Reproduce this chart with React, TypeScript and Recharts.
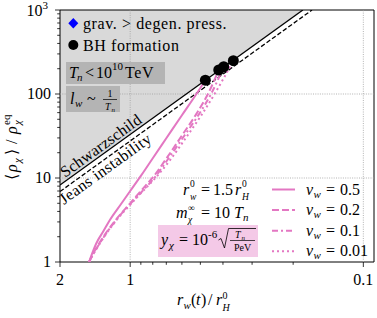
import React from 'react';
import {
  ComposedChart, Line, Area, Scatter, XAxis, YAxis, ReferenceArea
} from 'recharts';

// axis ticks
const X_MAJOR = [2, 1, 0.1];
const X_TICKS = [2, 1, 0.9, 0.8, 0.7, 0.6, 0.5, 0.4, 0.3, 0.2, 0.1];
const Y_MAJOR = [1, 10, 100, 1000];
const Y_TICKS = [1, 2, 3, 4, 5, 6, 7, 8, 9, 10, 20, 30, 40, 50, 60, 70, 80, 90, 100, 200, 300, 400, 500, 600, 700, 800, 900, 1000];
const X_DOMAIN = [0.09, 2];
const Y_DOMAIN = [1, 1000];
const GRID_X = [1, 0.1];
const GRID_Y = [10, 100];

// bound lines (end points in r_w / r_H^0 and rho / rho_eq)
const SCHW_R = [2, 0.1817];
const SCHW_RHO = [8.25, 1000];
const JEANS_R = [2, 0.166];
const JEANS_RHO = [6.9, 1000];

// wall trajectories, one per wall velocity
const V05_R = [1.5, 1.45, 1.4, 1.3, 1.222, 1.1, 1.0, 0.9, 0.8, 0.7, 0.6, 0.52, 0.476];
const V05_RHO = [1, 1.3, 1.65, 2.35, 3.16, 4.8, 7.0, 10.6, 17.2, 29.7, 55.8, 100, 146];
const V02_R = [1.5, 1.45, 1.38, 1.28, 1.15, 1.0, 0.9, 0.785, 0.7, 0.6, 0.52, 0.46, 0.417];
const V02_RHO = [1, 1.22, 1.55, 2.15, 3.2, 5.0, 7.0, 10.85, 17, 32, 58, 105, 193];
const V01_R = [1.5, 1.45, 1.38, 1.28, 1.15, 1.0, 0.89, 0.775, 0.69, 0.59, 0.51, 0.45, 0.397];
const V01_RHO = [1, 1.2, 1.52, 2.1, 3.15, 4.9, 6.9, 10.6, 16.6, 31, 56, 100, 211];
const V001_R = [1.5, 1.45, 1.38, 1.28, 1.15, 1.0, 0.89, 0.77, 0.675, 0.575, 0.495, 0.43, 0.361];
const V001_RHO = [1, 1.2, 1.5, 2.08, 3.1, 4.8, 6.8, 10.4, 16.3, 30.5, 56, 105, 249];

// black hole formation points
const BH_R = [0.476, 0.417, 0.397, 0.361];
const BH_RHO = [146, 193, 211, 249];

const PINK = '#e377c2';
const SERIF = 'Liberation Serif, serif';

const toPoints = (rs: number[], rhos: number[]) => rs.map((r, i) => ({ r, rho: rhos[i] }));

const SERIES = [
  { name: '0.5', data: toPoints(V05_R, V05_RHO), dash: undefined },
  { name: '0.2', data: toPoints(V02_R, V02_RHO), dash: '7 3' },
  { name: '0.1', data: toPoints(V01_R, V01_RHO), dash: '6 3 2 3' },
  { name: '0.01', data: toPoints(V001_R, V001_RHO), dash: '2 3' },
];

const shadeData = SCHW_R.map((r, i) => ({ r, band: [SCHW_RHO[i], Y_DOMAIN[1]] }));

const XTick = (props: any) => {
  const { x, y, payload } = props;
  const major = X_MAJOR.includes(payload.value);
  return (
    <g>
      <line x1={x} y1={y} x2={x} y2={y + (major ? 5 : 2.8)} stroke="#000" strokeWidth={0.8} />
      {major && (
        <text x={x} y={y + 23} textAnchor="middle" style={{ fontFamily: SERIF }} fontSize={16} fill="#000">
          {String(payload.value)}
        </text>
      )}
    </g>
  );
};

const YTick = (props: any) => {
  const { x, y, payload } = props;
  const major = Y_MAJOR.includes(payload.value);
  return (
    <g>
      <line x1={x} y1={y} x2={x - (major ? 5 : 2.8)} y2={y} stroke="#000" strokeWidth={0.8} />
      {major && payload.value === 1000 && (
        <text x={x - 12} y={y + 6} textAnchor="end" style={{ fontFamily: SERIF }} fontSize={16} fill="#000">
          10<tspan fontSize={11} dy={-7}>3</tspan>
        </text>
      )}
      {major && payload.value !== 1000 && (
        <text x={x - 9} y={y + 5} textAnchor="end" style={{ fontFamily: SERIF }} fontSize={16} fill="#000">
          {String(payload.value)}
        </text>
      )}
    </g>
  );
};

// small text helper for math pieces
const T = ({ x, y, s = 16, it = false, a = 'start', ls = 0, children }: any) => (
  <text x={x} y={y} fontSize={s} textAnchor={a} fill="#000"
    style={{ fontFamily: SERIF, fontStyle: it ? 'italic' : 'normal', letterSpacing: ls }}>{children}</text>
);

const Annotations = () => (
  <svg width={377} height={318} style={{ position: 'absolute', left: 0, top: 0, pointerEvents: 'none' }}>
    {/* top-left legend */}
    <polygon points="73.3,18 78.3,23.3 73.3,28.6 68.3,23.3" fill="#0000ff" />
    <T x={83} y={28.5} ls={0.6}>grav. &gt; degen. press.</T>
    <circle cx={73.3} cy={45} r={5} fill="#000" />
    <T x={83} y={50.5} ls={0.6}>BH formation</T>

    <rect x={66} y={62} width={99} height={22} fill="#b4b4b4" />
    <T x={69} y={77.5} it>T</T>
    <T x={77} y={80.5} s={11} it>n</T>
    <T x={85} y={77.5}>&lt;</T>
    <T x={96} y={77.5}>10</T>
    <T x={112} y={70} s={11}>10</T>
    <T x={125} y={77.5} ls={0.6}>TeV</T>

    <rect x={66} y={86} width={54} height={26} fill="#b4b4b4" />
    <T x={70} y={104} it>l</T>
    <T x={75} y={107} s={11} it>w</T>
    <T x={87} y={104}>~</T>
    <T x={110} y={97} s={10} a="middle">1</T>
    <line x1={103} y1={99.5} x2={117} y2={99.5} stroke="#000" strokeWidth={0.7} />
    <T x={105} y={109.5} s={10} it>T</T>
    <T x={111.5} y={111.5} s={7} it>n</T>

    {/* bound labels */}
    <g transform="translate(65,178) rotate(-35.8)">
      <T x={0} y={0} ls={0.2}>Schwarzschild</T>
    </g>
    <g transform="translate(64,205) rotate(-35.8)">
      <T x={0} y={0} ls={0.4}>Jeans instability</T>
    </g>

    {/* parameters */}
    <T x={183} y={195} it>r</T>
    <T x={190} y={186.5} s={9.5}>0</T>
    <T x={190} y={199.5} s={9.5} it>w</T>
    <T x={201} y={195}>=</T>
    <T x={213} y={195}>1.5</T>
    <T x={235} y={195} it>r</T>
    <T x={242} y={186.5} s={9.5}>0</T>
    <T x={242} y={199.5} s={9.5} it>H</T>

    <T x={176} y={217.5} it>m</T>
    <T x={188} y={211} s={9.5}>∞</T>
    <T x={188} y={223} s={9.5} it>χ</T>
    <T x={201} y={217.5}>=</T>
    <T x={214} y={217.5}>10</T>
    <T x={234} y={217.5} it>T</T>
    <T x={243} y={221} s={11} it>n</T>

    <rect x={158} y={225} width={100} height={32} fill="#f4c9e7" />
    <T x={161} y={245} it>y</T>
    <T x={169} y={249} s={11} it>χ</T>
    <T x={179} y={245}>=</T>
    <T x={192} y={245}>10</T>
    <T x={208} y={238} s={11}>-6</T>
    <path d="M218.5,240 L221,238.5 L224.5,248 L228.5,228.5 L256,228.5" stroke="#000" strokeWidth={0.8} fill="none" />
    <T x={235} y={237.5} s={10} it>T</T>
    <T x={241.5} y={239.5} s={7} it>n</T>
    <line x1={230} y1={240.5} x2={255} y2={240.5} stroke="#000" strokeWidth={0.7} />
    <T x={242.5} y={250.5} s={10} a="middle">PeV</T>

    {/* velocity legend */}
    {SERIES.map((s, i) => {
      const cy = 189.5 + i * 20.6;
      return (
        <g key={s.name}>
          <line x1={272} y1={cy} x2={295} y2={cy} stroke={PINK} strokeWidth={2} strokeDasharray={s.dash} />
          <T x={306} y={cy + 5} it>v</T>
          <T x={313.5} y={cy + 8} s={11} it>w</T>
          <T x={326} y={cy + 5}>=</T>
          <T x={340} y={cy + 5}>{s.name}</T>
        </g>
      );
    })}

    {/* axis labels */}
    <T x={177} y={305} it>r</T>
    <T x={183.5} y={309} s={11} it>w</T>
    <T x={191} y={305}>(</T>
    <T x={196} y={305} it>t</T>
    <T x={201} y={305}>)</T>
    <T x={208} y={305}>/</T>
    <T x={216} y={305} it>r</T>
    <T x={222.5} y={298.5} s={10}>0</T>
    <T x={222.5} y={311} s={10} it>H</T>

    <g transform="translate(12,140) rotate(-90)">
      <T x={-40} y={5}>⟨</T>
      <T x={-32} y={5} it>ρ</T>
      <T x={-23} y={9} s={11} it>χ</T>
      <T x={-15} y={5}>⟩</T>
      <T x={-4} y={5}>/</T>
      <T x={6} y={5} it>ρ</T>
      <T x={15} y={-2} s={11}>eq</T>
      <T x={15} y={9} s={11} it>χ</T>
    </g>
  </svg>
);

export default function App() {
  return (
    <div style={{ position: 'absolute', left: 0, top: 0, width: 377, height: 318 }}>
      <ComposedChart width={377} height={318} data={shadeData}
        margin={{ top: 10, right: 3, bottom: 0, left: 0 }}>
        <XAxis dataKey="r" type="number" scale="log" domain={X_DOMAIN} reversed allowDataOverflow
          ticks={X_TICKS} interval={0} tick={<XTick />} tickLine={false} axisLine={false}
          tickSize={0} tickMargin={0} height={56} />
        <YAxis type="number" scale="log" domain={Y_DOMAIN} allowDataOverflow
          ticks={Y_TICKS} interval={0} tick={<YTick />} tickLine={false} axisLine={false}
          tickSize={0} tickMargin={0} width={60} />

        <Area dataKey="band" type="linear" fill="#d9d9d9" fillOpacity={1} stroke="none"
          isAnimationActive={false} legendType="none" />

        {/* dotted major grid, drawn as two-point lines so they sit above the shading */}
        {GRID_X.map(v => (
          <Line key={'gx' + v} data={Y_DOMAIN.map(rho => ({ r: v, rho }))} dataKey="rho" type="linear"
            stroke="#a0a0a0" strokeWidth={0.8} strokeDasharray="1 1.3" dot={false}
            isAnimationActive={false} legendType="none" />
        ))}
        {GRID_Y.map(v => (
          <Line key={'gy' + v} data={[X_DOMAIN[1], X_DOMAIN[0]].map(r => ({ r, rho: v }))} dataKey="rho"
            type="linear" stroke="#a0a0a0" strokeWidth={0.8} strokeDasharray="1 1.3" dot={false}
            isAnimationActive={false} legendType="none" />
        ))}

        <Line data={toPoints(SCHW_R, SCHW_RHO)} dataKey="rho" type="linear" stroke="#000"
          strokeWidth={1.3} dot={false} isAnimationActive={false} legendType="none" />
        <Line data={toPoints(JEANS_R, JEANS_RHO)} dataKey="rho" type="linear" stroke="#000"
          strokeWidth={1.3} strokeDasharray="4.5 2.2" dot={false} isAnimationActive={false} legendType="none" />

        {SERIES.map(s => (
          <Line key={s.name} data={s.data} dataKey="rho" type="monotone" stroke={PINK}
            strokeWidth={2} strokeDasharray={s.dash} dot={false} isAnimationActive={false} />
        ))}

        <Scatter data={toPoints(BH_R, BH_RHO)} dataKey="rho" fill="#000" isAnimationActive={false}
          shape={(p: any) => <circle cx={p.cx} cy={p.cy} r={5.5} fill="#000" />} />

        <ReferenceArea x1={X_DOMAIN[1]} x2={X_DOMAIN[0]} y1={Y_DOMAIN[0]} y2={Y_DOMAIN[1]}
          fill="none" stroke="#000" strokeWidth={1} />
      </ComposedChart>
      <Annotations />
    </div>
  );
}
